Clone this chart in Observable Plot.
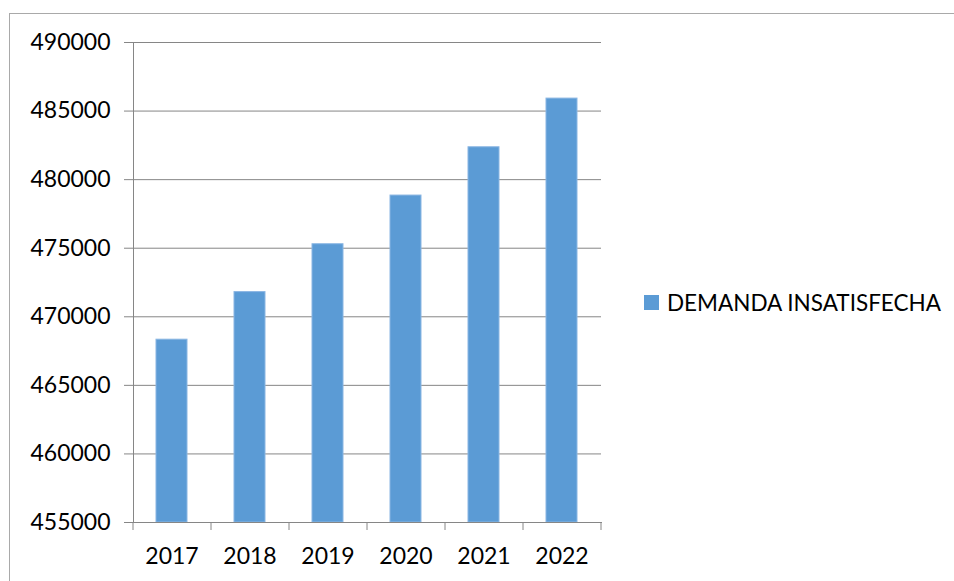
<!DOCTYPE html>
<html>
<head>
<meta charset="utf-8">
<script src="https://cdn.jsdelivr.net/npm/d3@7"></script>
<script src="https://cdn.jsdelivr.net/npm/@observablehq/plot@0.6"></script>
<style>
  html, body { margin: 0; padding: 0; background: #fff; }
  #wrap { position: relative; width: 954px; height: 581px; overflow: hidden; font-family: Lato, "Open Sans", sans-serif; }
  #border { position: absolute; left: 9px; top: 13px; width: 960px; height: 600px; border-left: 1px solid #a9a9a9; border-top: 1px solid #a9a9a9; }
  #legend { position: absolute; left: 644px; top: 289px; display: flex; align-items: center; font-size: 22.5px; color: #000; white-space: nowrap; }
  #legend .sw { width: 15px; height: 15px; background: #5b9bd5; margin-right: 8px; }
  #chart { position: absolute; left: 0; top: 0; }
</style>
</head>
<body>
<div id="wrap">
  <div id="border"></div>
  <div id="chart"></div>
  <div id="legend"><span class="sw"></span><span id="legtext"></span></div>
</div>
<script>
const years = ["2017", "2018", "2019", "2020", "2021", "2022"];
const demanda = [468330, 471800, 475290, 478840, 482360, 485910];
const yTicks = [455000, 460000, 465000, 470000, 475000, 480000, 485000, 490000];
const seriesName = "DEMANDA INSATISFECHA";

const data = years.map((y, i) => ({year: y, value: demanda[i]}));
const gray = "#868686";

const plot = Plot.plot({
  width: 954,
  height: 581,
  marginLeft: 133,
  marginRight: 353,
  marginTop: 42,
  marginBottom: 59,
  style: {fontFamily: "Lato, 'Open Sans', sans-serif", fontSize: "23px", color: "#000", background: "transparent"},
  x: {domain: years, paddingInner: 0.6, paddingOuter: 0.3, label: null},
  y: {domain: [yTicks[0], yTicks[yTicks.length - 1]], label: null},
  marks: [
    Plot.gridY(yTicks, {stroke: gray, strokeOpacity: 1, strokeWidth: 1}),
    Plot.barY(data, {x: "year", y1: yTicks[0], y2: "value", fill: "#5b9bd5", stroke: "#8ab6e3", strokeWidth: 1}),
    Plot.frame({anchor: "left", stroke: gray}),
    Plot.frame({anchor: "bottom", stroke: gray}),
    Plot.axisY(yTicks, {tickSize: 9, tickPadding: 14, stroke: gray, fill: "#000", tickFormat: d => String(d), fontSize: 23, label: null}),
    Plot.axisX({tickSize: 8, dx: -39, tickFormat: () => "", stroke: gray, label: null}),
    Plot.axisX([years[years.length - 1]], {tickSize: 8, dx: 39, tickFormat: () => "", stroke: gray, label: null}),
    Plot.axisX({tickSize: 0, tickPadding: 25, fill: "#000", fontSize: 23, label: null})
  ]
});
document.getElementById("chart").appendChild(plot);
document.getElementById("legtext").textContent = seriesName;
</script>
</body>
</html>
